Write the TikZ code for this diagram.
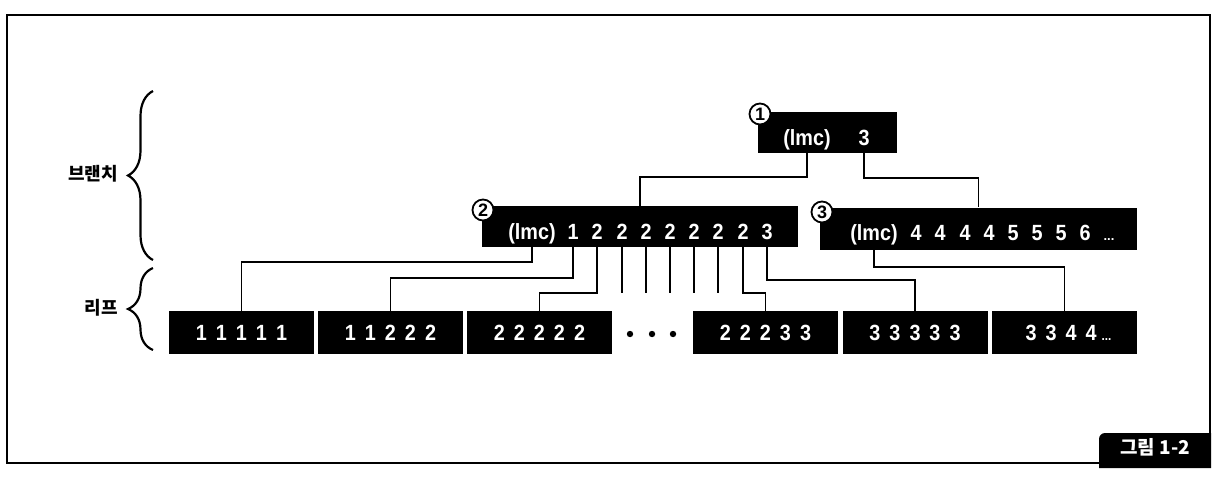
\documentclass[tikz,border=0pt]{standalone}
\usepackage{fontspec}
\setmainfont{Liberation Sans}
\newfontfamily\condfont{Liberation Sans}[FakeStretch=0.9]
\newfontfamily\krfont{Noto Sans CJK KR}
\usetikzlibrary{decorations.pathreplacing,calc}
\newcommand\lfsp{\hspace{9pt}}
\begin{document}
\begin{tikzpicture}[x=1pt,y=-1pt,
  blk/.style={fill=black, draw=none, inner sep=0pt},
  brbox/.style={blk, minimum height=41pt},
  leafbox/.style={blk, minimum width=145pt, minimum height=43pt, text=white,
    font=\condfont\fontsize{22}{22}\selectfont\bfseries},
  wtxt/.style={text=white, inner sep=0pt, anchor=base,
    font=\condfont\fontsize{22}{22}\selectfont\bfseries},
  circ/.style={circle, draw=black, fill=white, line width=1.8pt, inner sep=0pt,
    minimum size=21pt, font=\fontsize{18}{18}\selectfont\bfseries},
  conn/.style={line width=1.6pt},
  brc/.style={decorate, decoration={brace, amplitude=25pt}, line width=2.2pt},
  side/.style={anchor=east, inner sep=0pt, font=\krfont\bfseries\fontsize{18}{18}\selectfont},
  frame/.style={line width=1.6pt}]
\useasboundingbox (0,0) rectangle (1222,480);
\fill[white] (0,0) rectangle (1222,480);
\draw[frame] (7,15) rectangle (1210,463);

% branch boxes
\node[brbox, minimum width=139pt] (b1) at (827.5,132.5) {};
\node[brbox, minimum width=316pt] (b2) at (640,226.5) {};
\node[brbox, minimum width=317pt, minimum height=42pt] (b3) at (978.5,228.5) {};

% box 1 texts
\node[wtxt] (t1l) at (807,145) {(lmc)};
\node[wtxt] (t1n) at (864,145) {3};

% box 2 texts
\node[wtxt] (t2l) at (532,239) {(lmc)};
\node[wtxt] (p1) at (573,239) {1};
\node[wtxt] (p2) at (597,239) {2};
\node[wtxt] (p3) at (622,239) {2};
\node[wtxt] (p4) at (646,239) {2};
\node[wtxt] (p5) at (670,239) {2};
\node[wtxt] (p6) at (694,239) {2};
\node[wtxt] (p7) at (718,239) {2};
\node[wtxt] (p8) at (743,239) {2};
\node[wtxt] (p9) at (767,239) {3};

% box 3 texts
\node[wtxt] (t3l) at (874,240) {(lmc)};
\node[wtxt] (q1) at (916,240) {4};
\node[wtxt] (q2) at (940,240) {4};
\node[wtxt] (q3) at (965,240) {4};
\node[wtxt] (q4) at (989,240) {4};
\node[wtxt] (q5) at (1013,240) {5};
\node[wtxt] (q6) at (1037,240) {5};
\node[wtxt] (q7) at (1061,240) {5};
\node[wtxt] (q8) at (1085,240) {6};
\node[wtxt, font=\fontsize{13}{13}\selectfont\bfseries] (q9) at (1109,240) {...};

% circled numbers
\node[circ] (c1) at (760,114) {1};
\node[circ] (c2) at (483,210) {2};
\node[circ] (c3) at (822,212) {3};

% leaves
\node[leafbox] (lf1) at (241.5,332.5) {1\lfsp 1\lfsp 1\lfsp 1\lfsp 1};
\node[leafbox] (lf2) at (390.5,332.5) {1\lfsp 1\lfsp 2\lfsp 2\lfsp 2};
\node[leafbox] (lf3) at (539.5,332.5) {2\lfsp 2\lfsp 2\lfsp 2\lfsp 2};
\node[leafbox] (lf4) at (765.5,332.5) {2\lfsp 2\lfsp 2\lfsp 3\lfsp 3};
\node[leafbox] (lf5) at (915,332.5) {3\lfsp 3\lfsp 3\lfsp 3\lfsp 3};
\node[leafbox] (lf6) at (1064.5,332.5) {\hspace{8pt}3\lfsp 3\lfsp 4\lfsp 4\hspace{5pt}{\fontsize{13}{13}\selectfont ...}};

% ellipsis dots between leaves
\fill (630,334) circle (3.2);
\fill (652,334) circle (3.2);
\fill (673,334) circle (3.2);

% level for free ends
\coordinate (lvl) at (0,293);

% connectors
\draw[conn] (t1l.center |- b1.south) -- ++(0,24) -| (b2.north);
\draw[conn] (t1n.center |- b1.south) -- ++(0,25) -| (b3.north);

\draw[conn] (t2l.center |- b2.south) -- ++(0,15) -| (lf1.north);
\draw[conn] (p1.center |- b2.south) -- ++(0,31) -| (lf2.north);
\draw[conn] (p2.center |- b2.south) -- (p2.center |- lvl) -| (lf3.north);
\draw[conn] (p3.center |- b2.south) -- (p3.center |- lvl);
\draw[conn] (p4.center |- b2.south) -- (p4.center |- lvl);
\draw[conn] (p5.center |- b2.south) -- (p5.center |- lvl);
\draw[conn] (p6.center |- b2.south) -- (p6.center |- lvl);
\draw[conn] (p7.center |- b2.south) -- (p7.center |- lvl);
\draw[conn] (p8.center |- b2.south) -- (p8.center |- lvl) -| (lf4.north);
\draw[conn] (p9.center |- b2.south) -- ++(0,33) -| (lf5.north);
\draw[conn] (t3l.center |- b3.south) -- ++(0,17) -| (lf6.north);

% braces and labels
\draw[brc] (153,260) -- (153,91);
\draw[brc] (153,350) -- (153,268);
\node[side] (lbr) at (118,174) {브랜치};
\node[side] (llf) at (118,308) {리프};

% figure label
\fill (1099,468) -- (1099,439) .. controls (1099,435.7) and (1101.7,433) .. (1105,433) -- (1211,433) -- (1211,468) -- cycle;
\node[text=white, inner sep=0pt, font=\krfont\bfseries\fontsize{19}{19}\selectfont] (fig) at (1155,447) {그림 1-2};
\end{tikzpicture}
\end{document}
